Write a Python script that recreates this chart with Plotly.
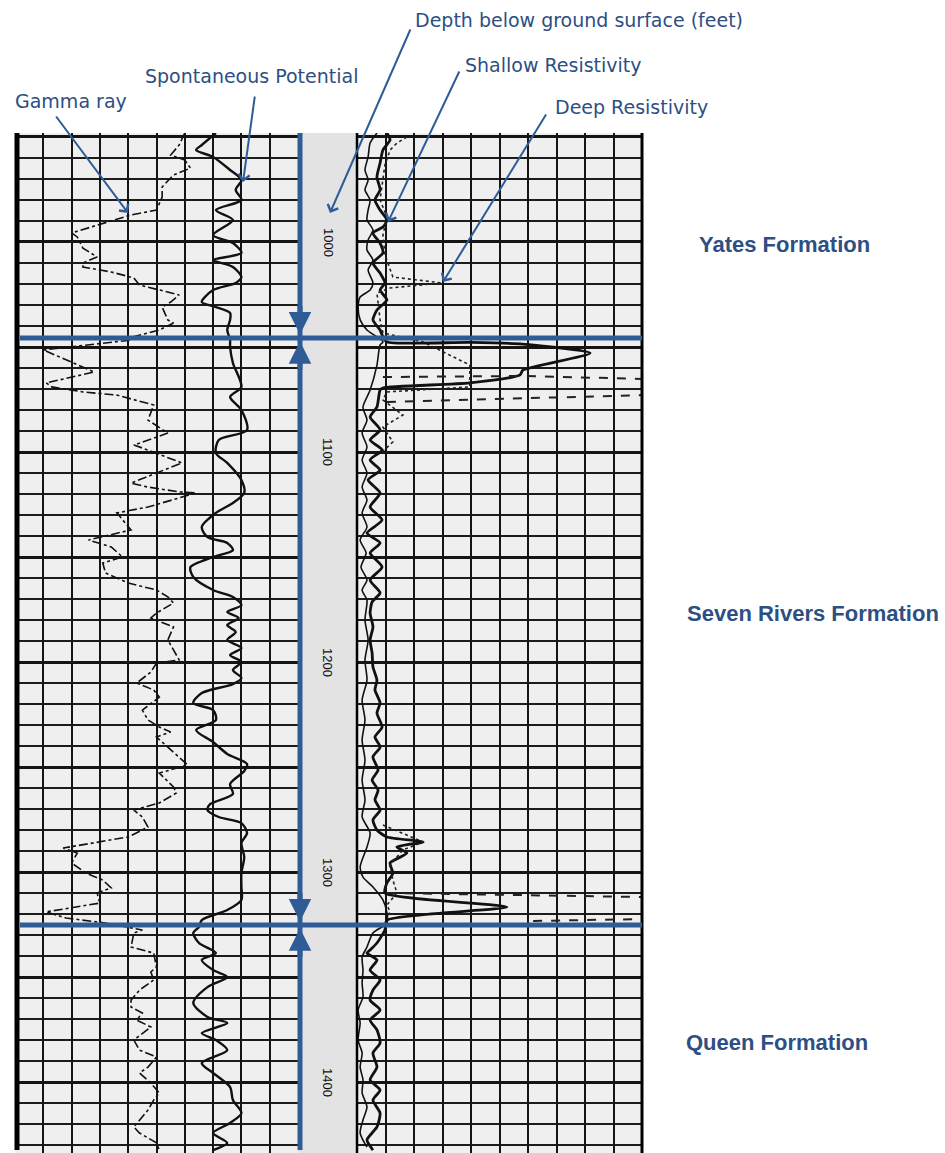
import plotly.graph_objects as go

# ---------------- data (depth in feet, track values 0-100 per track) ----------------
gr_depth = [948.1, 953.8, 958.6, 961.0, 964.8, 968.1, 973.8, 978.6, 984.8, 987.1, 995.7, 997.6,
            1002.9, 1007.1, 1010.0, 1011.9, 1014.3, 1017.1, 1020.5, 1025.2, 1028.6, 1031.0, 1037.1,
            1038.6, 1041.9, 1045.7, 1046.7, 1051.4, 1061.9, 1067.1, 1069.0, 1071.4, 1072.9, 1077.6,
            1084.8, 1091.0, 1096.7, 1098.1, 1105.2, 1114.8, 1116.7, 1119.0, 1119.5, 1126.2, 1129.0,
            1137.1, 1141.9, 1145.2, 1150.0, 1152.9, 1157.6, 1162.4, 1165.7, 1169.0, 1171.9, 1176.7,
            1179.0, 1183.3, 1189.5, 1199.0, 1200.5, 1204.8, 1210.0, 1213.3, 1216.7, 1222.9, 1227.6,
            1231.0, 1233.3, 1235.7, 1240.5, 1246.7, 1249.0, 1252.9, 1259.5, 1262.4, 1267.1, 1270.5,
            1273.8, 1278.6, 1283.3, 1288.6, 1291.0, 1295.7, 1300.5, 1303.8, 1307.6, 1310.0, 1314.8,
            1319.0, 1321.9, 1324.3, 1327.6, 1329.0, 1335.7, 1338.6, 1345.2, 1347.6, 1351.4, 1356.2,
            1361.0, 1364.3, 1367.1, 1370.5, 1373.8, 1380.0, 1384.8, 1388.1, 1392.9, 1395.7, 1400.5,
            1405.2, 1408.6, 1413.3, 1418.1, 1421.4, 1424.3, 1429.0, 1432.4]
gr_value = [60, 58, 55, 60, 62, 56, 52, 52, 50, 41, 20, 22,
            24, 29, 24, 24, 34, 42, 44, 58, 55, 52, 54,
            56, 51, 40, 41, 10, 28, 11, 13, 24, 36, 49,
            47, 54, 42, 45, 59, 41, 47, 58, 64, 47, 36,
            41, 26, 34, 38, 31, 32, 40, 50, 54, 56, 50,
            48, 56, 54, 58, 50, 48, 43, 49, 51, 45, 47,
            51, 55, 50, 54, 59, 61, 51, 56, 57, 51, 42,
            45, 47, 40, 17, 22, 20, 25, 31, 34, 29, 30,
            11, 18, 32, 45, 42, 41, 49, 50, 48, 49, 44,
            41, 41, 45, 43, 48, 42, 44, 50, 47, 44, 48,
            51, 49, 47, 44, 42, 44, 50, 51]

sp_depth = [948.1, 953.8, 956.2, 959.5, 965.7, 970.5, 975.2, 980.0, 984.8, 989.5, 996.7, 1000.5,
            1005.2, 1008.6, 1011.9, 1016.7, 1019.5, 1022.9, 1028.6, 1031.0, 1033.8, 1037.1, 1041.9,
            1046.7, 1050.0, 1057.6, 1069.0, 1073.8, 1080.0, 1089.5, 1094.3, 1100.5, 1105.2, 1113.3,
            1119.5, 1124.3, 1129.0, 1135.7, 1140.5, 1143.3, 1146.7, 1150.0, 1154.8, 1159.5, 1165.7,
            1169.0, 1172.9, 1176.2, 1179.0, 1182.4, 1185.7, 1189.5, 1193.3, 1196.7, 1200.0, 1203.8,
            1207.6, 1210.5, 1214.8, 1219.5, 1222.9, 1227.6, 1232.4, 1238.1, 1243.8, 1248.6, 1251.9,
            1258.1, 1262.9, 1267.6, 1270.5, 1273.8, 1276.7, 1281.4, 1286.2, 1292.9, 1300.5, 1307.1,
            1313.3, 1318.1, 1322.9, 1326.2, 1329.0, 1333.8, 1338.6, 1341.9, 1346.7, 1350.0, 1354.8,
            1362.4, 1369.0, 1371.9, 1376.7, 1380.0, 1384.8, 1391.0, 1395.7, 1402.4, 1408.6, 1414.8,
            1419.5, 1424.3, 1429.0, 1432.4]
sp_value = [71, 66, 64, 70, 76, 80, 78, 80, 71, 77, 70, 77,
            80, 70, 77, 80, 78, 70, 66, 71, 76, 76, 75,
            76, 76, 77, 80, 76, 80, 82, 72, 71, 75, 80,
            81, 77, 71, 66, 68, 75, 77, 70, 62, 63, 70,
            77, 80, 75, 79, 75, 78, 75, 80, 76, 80, 77,
            80, 77, 66, 63, 70, 71, 64, 70, 75, 82, 81,
            76, 77, 69, 68, 72, 80, 82, 80, 81, 80, 80,
            80, 75, 66, 65, 63, 65, 71, 66, 70, 75, 68,
            63, 68, 75, 66, 71, 75, 66, 70, 76, 77, 80,
            76, 70, 75, 70]

shallow_depth = [948.1, 951.4, 956.2, 962.4, 969.0, 975.2, 980.0, 984.8, 989.5, 992.9, 995.7, 1000.5,
                 1005.2, 1010.0, 1014.8, 1019.5, 1022.9, 1027.6, 1032.4, 1037.1, 1041.9, 1045.2,
                 1047.6, 1047.8, 1048.6, 1052.9, 1061.0, 1063.3, 1067.1, 1069.5, 1070.5, 1078.6,
                 1083.3, 1089.5, 1094.3, 1099.0, 1103.8, 1108.6, 1113.3, 1119.5, 1126.2, 1132.4,
                 1138.6, 1143.3, 1148.1, 1154.8, 1161.0, 1167.1, 1171.4, 1176.7, 1183.3, 1189.5,
                 1195.7, 1202.4, 1208.6, 1213.3, 1219.5, 1224.3, 1231.0, 1235.7, 1240.5, 1245.2,
                 1251.4, 1256.2, 1261.0, 1265.7, 1270.5, 1275.2, 1280.0, 1283.3, 1285.7, 1288.1,
                 1291.0, 1295.7, 1300.5, 1305.2, 1310.0, 1316.7, 1322.9, 1327.6, 1333.8, 1337.1,
                 1338.6, 1341.9, 1346.7, 1351.4, 1356.2, 1361.0, 1365.7, 1370.5, 1375.2, 1381.4,
                 1386.2, 1392.9, 1399.0, 1403.8, 1408.6, 1414.8, 1421.4, 1427.6, 1432.4]
shallow_value = [10.5, 11.6, 9.1, 8.1, 7.0, 8.1, 6.3, 8.1, 10.5, 9.1, 5.6, 8.1,
                 9.1, 5.6, 8.1, 9.8, 8.1, 10.5, 7.0, 5.6, 8.1, 9.1,
                 10.5, 39.6, 58.2, 81.8, 58.2, 57.2, 39.6, 9.1, 8.1, 7.0,
                 4.6, 8.1, 4.6, 8.8, 4.6, 8.1, 3.9, 8.1, 4.6, 8.8,
                 3.5, 8.1, 4.6, 8.8, 4.6, 8.1, 5.3, 4.6, 5.6, 4.6,
                 5.3, 5.6, 7.0, 6.3, 8.1, 7.0, 8.8, 6.3, 8.1, 5.6,
                 7.4, 5.3, 7.4, 6.3, 8.1, 5.6, 7.0, 10.5, 23.2, 14.0,
                 17.5, 11.6, 12.6, 10.5, 9.8, 52.6, 10.5, 9.8, 7.0, 4.6,
                 3.5, 7.0, 4.6, 8.1, 5.6, 4.6, 8.1, 4.6, 7.0, 8.1,
                 5.6, 7.0, 4.6, 8.1, 5.6, 8.1, 7.0, 3.5, 5.6]

medium_depth = [948.1, 952.9, 959.5, 965.7, 970.5, 975.2, 980.0, 984.8, 989.5, 994.3, 999.0, 1003.8,
                1008.6, 1013.3, 1019.5, 1022.9, 1026.2, 1031.0, 1037.1, 1041.9, 1045.2, 1047.6,
                1049.0, 1058.6, 1070.5, 1078.6, 1084.8, 1091.0, 1097.6, 1103.8, 1110.0, 1116.7,
                1122.9, 1129.0, 1135.7, 1141.9, 1148.1, 1154.8, 1161.0, 1165.7, 1170.5, 1180.0,
                1189.5, 1199.0, 1208.6, 1218.1, 1227.6, 1237.1, 1246.7, 1256.2, 1265.7, 1273.8,
                1281.4, 1288.1, 1297.6, 1302.4, 1307.1, 1313.3, 1319.5, 1324.3, 1329.0, 1335.7,
                1340.5, 1346.7, 1352.9, 1359.5, 1365.7, 1371.9, 1380.0, 1386.2, 1392.9, 1399.0,
                1405.2, 1411.9, 1418.1, 1424.3, 1431.0]
medium_value = [7.0, 4.6, 3.9, 2.8, 3.9, 2.8, 4.6, 3.9, 3.5, 5.6, 3.9, 3.5,
                5.6, 3.9, 5.6, 4.6, 1.1, 0.4, 1.1, 3.5, 7.0, 9.1,
                8.1, 7.0, 4.6, 2.1, 3.5, 1.8, 3.5, 1.8, 3.5, 1.8,
                3.5, 1.8, 3.5, 1.1, 3.2, 1.4, 3.5, 1.8, 3.5, 2.8,
                3.9, 2.8, 3.5, 1.8, 2.8, 1.8, 2.8, 1.8, 2.8, 1.8,
                4.6, 3.5, 1.1, 2.1, 5.6, 9.1, 10.5, 10.5, 5.6, 3.5,
                1.8, 2.1, 1.8, 2.1, 0.4, 1.1, 0.4, 1.8, 1.1, 2.1,
                1.8, 3.5, 2.1, 1.1, 3.5]

deep_depth = [950.0, 952.9, 956.2, 963.3, 972.9, 980.0, 988.1, 996.7, 1006.2, 1016.7, 1019.5, 1021.9,
              1024.3, 1030.0, 1037.1, 1043.3, 1047.6, 1058.6, 1062.4, 1069.0, 1071.4, 1075.2,
              1082.4, 1088.1, 1095.2, 1100.0,
              None,
              1277.6, 1285.7, 1289.5, 1296.7, 1303.8, 1310.0, 1315.7, 1319.0, 1321.9]
deep_value = [17.5, 14.0, 11.6, 9.8, 8.8, 8.1, 10.5, 9.1, 9.8, 12.6, 29.8, 11.6,
              7.0, 7.4, 8.1, 9.1, 23.2, 39.6, 39.6, 39.6, 10.5, 9.1,
              16.1, 9.1, 12.6, 8.8,
              None,
              9.1, 23.2, 16.1, 11.6, 12.6, 14.0, 10.5, 11.6, 10.5]

backup_depth = [1064.3, 1063.8, 1065.2, None, 1076.2, 1075.2, 1072.9, None,
                1310.0, 1311.9, None, 1323.3, 1322.4]
backup_value = [9.1, 58.2, 100, None, 10.5, 39.6, 100, None,
                10.5, 100, None, 61.8, 100]

depth_labels = [1000, 1100, 1200, 1300, 1400]
formation_tops = [1045.7, 1325.2]
formation_names = ["Yates Formation", "Seven Rivers Formation", "Queen Formation"]
formation_label_depth = [1001.4, 1176.7, 1381.0]

curve_labels = ["Gamma ray", "Spontaneous Potential", "Depth below ground surface (feet)",
                "Shallow Resistivity", "Deep Resistivity"]

# ---------------- layout helpers ----------------
W, H = 945, 1153
BLUE = "#2F5C97"
TXT = "#2D4F82"
TOP_PX = 133
D_TOP, D_BOT = 948.1, 1433.8


def px(x):
    return x / W


def py(y):
    return 1 - y / H


fig = go.Figure()

fig.add_trace(go.Scatter(x=gr_value, y=gr_depth, mode="lines", xaxis="x", yaxis="y",
                         line=dict(color="#111", width=1.6, dash="dashdot"), name="Gamma ray"))
fig.add_trace(go.Scatter(x=sp_value, y=sp_depth, mode="lines", xaxis="x", yaxis="y",
                         line=dict(color="#111", width=2.4, shape="spline", smoothing=0.8),
                         name="Spontaneous Potential"))
fig.add_trace(go.Scatter(x=medium_value, y=medium_depth, mode="lines", xaxis="x2", yaxis="y",
                         line=dict(color="#111", width=1.6, shape="spline", smoothing=0.7),
                         name="Medium Resistivity"))
fig.add_trace(go.Scatter(x=shallow_value, y=shallow_depth, mode="lines", xaxis="x2", yaxis="y",
                         line=dict(color="#111", width=2.8, shape="spline", smoothing=0.6),
                         name="Shallow Resistivity"))
fig.add_trace(go.Scatter(x=deep_value, y=deep_depth, mode="lines", xaxis="x2", yaxis="y",
                         line=dict(color="#222", width=1.6, dash="dot"), connectgaps=False,
                         name="Deep Resistivity"))
fig.add_trace(go.Scatter(x=backup_value, y=backup_depth, mode="lines", xaxis="x2", yaxis="y",
                         line=dict(color="#222", width=2, dash="dash"), connectgaps=False,
                         name="Deep Resistivity (backup)"))

grid_x = dict(range=[0, 100], dtick=10, showgrid=True, gridcolor="#151515", gridwidth=2,
              showticklabels=False, zeroline=False, showline=False, ticks="", fixedrange=True)
fig.update_layout(
    width=W, height=H, margin=dict(l=0, r=0, t=0, b=0),
    paper_bgcolor="white", plot_bgcolor="#efefef", showlegend=False,
    xaxis=dict(domain=[px(15), px(298)], anchor="y", **grid_x),
    xaxis2=dict(domain=[px(357), px(642)], anchor="y", **grid_x),
    yaxis=dict(domain=[0, py(TOP_PX)], range=[D_BOT, D_TOP], tick0=0, dtick=50,
               showgrid=True, gridcolor="#151515", gridwidth=2.6,
               minor=dict(dtick=10, showgrid=True, gridcolor="#1c1c1c", gridwidth=1.8),
               showticklabels=False, zeroline=False, showline=False, ticks="", fixedrange=True),
)

shapes = []
# depth track (gray band)
shapes.append(dict(type="rect", xref="paper", yref="paper", x0=px(298), x1=px(357),
                   y0=0, y1=py(TOP_PX), fillcolor="#e3e3e3", line_width=0, layer="below"))
# borders
shapes.append(dict(type="line", xref="paper", yref="paper", x0=px(17), x1=px(17),
                   y0=py(1150), y1=py(TOP_PX), line=dict(color="black", width=5)))
shapes.append(dict(type="line", xref="paper", yref="paper", x0=px(642), x1=px(642),
                   y0=0, y1=py(TOP_PX), line=dict(color="black", width=3)))
shapes.append(dict(type="line", xref="paper", yref="paper", x0=px(357), x1=px(357),
                   y0=0, y1=py(TOP_PX), line=dict(color="black", width=2.5)))
# blue guide lines
shapes.append(dict(type="line", xref="paper", yref="paper", x0=px(300), x1=px(300),
                   y0=py(1150), y1=py(TOP_PX), line=dict(color=BLUE, width=5)))
for d in formation_tops:
    shapes.append(dict(type="line", xref="paper", yref="y", x0=px(20), x1=px(642),
                       y0=d, y1=d, line=dict(color=BLUE, width=5)))
fig.update_layout(shapes=shapes)

ann = []
# depth numbers (rotated)
for d in depth_labels:
    ann.append(dict(x=px(328), y=d, xref="paper", yref="y", text=str(d), showarrow=False,
                    textangle=90, font=dict(family="Liberation Sans", size=13, color="#111")))
# formation names
label_x = [697, 685, 684]
for name, d, lx in zip(formation_names, formation_label_depth, label_x):
    ann.append(dict(x=px(lx), y=d, xref="paper", yref="y", text="<b>%s</b>" % name,
                    showarrow=False, xanchor="left", yanchor="middle",
                    font=dict(family="Liberation Sans", size=22, color=TXT)))
# curve labels
label_pos = [(13, 101), (143, 76), (413, 20), (463, 65), (553, 107)]
for t, (lx, ly) in zip(curve_labels, label_pos):
    ann.append(dict(x=px(lx), y=py(ly), xref="paper", yref="paper", text=t, showarrow=False,
                    xanchor="left", yanchor="middle",
                    font=dict(family="DejaVu Sans", size=19, color=TXT)))
# pointer arrows (tail -> tip, in pixels)
arrows = [((55, 115), (128, 213)), ((255, 95), (243, 182)), ((411, 28), (330, 213)),
          ((460, 70), (388, 222)), ((547, 113), (443, 282))]
for (tx, ty), (hx, hy) in arrows:
    ann.append(dict(x=px(hx), y=py(hy), xref="paper", yref="paper", text="", showarrow=True,
                    ax=tx - hx, ay=ty - hy, arrowhead=4, arrowsize=1.1, arrowwidth=2,
                    arrowcolor=BLUE, standoff=0))
# boundary arrows on the depth axis line
for d in formation_tops:
    ann.append(dict(x=px(300), y=d - 1.6, xref="paper", yref="y", text="", showarrow=True,
                    ax=0, ay=-30, arrowhead=2, arrowsize=0.9, arrowwidth=5, arrowcolor=BLUE))
    ann.append(dict(x=px(300), y=d + 1.6, xref="paper", yref="y", text="", showarrow=True,
                    ax=0, ay=30, arrowhead=2, arrowsize=0.9, arrowwidth=5, arrowcolor=BLUE))
fig.update_layout(annotations=ann)

fig.write_html("out.html", config={"displayModeBar": False},
               post_script="document.body.style.margin='0px';document.body.style.overflow='hidden';")
